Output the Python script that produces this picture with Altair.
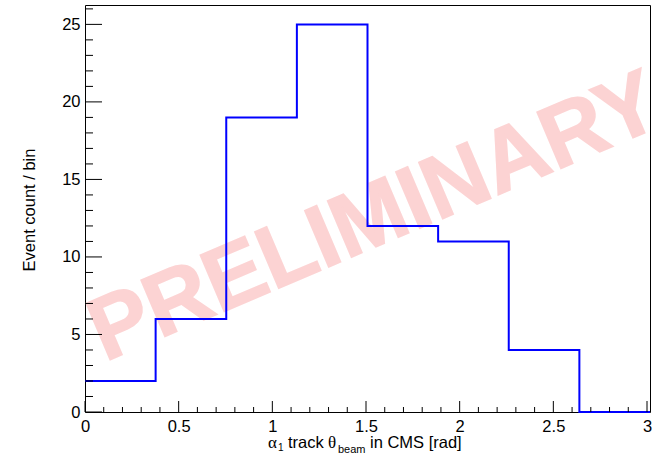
import altair as alt
import pandas as pd

# Histogram data (bin edges and contents)
bin_edges = [0.0, 0.377, 0.754, 1.131, 1.508, 1.885, 2.262, 2.639, 3.016]
bin_counts = [2, 6, 19, 25, 12, 11, 4, 0]

# Axis ticks
x_major = [0.0, 0.5, 1.0, 1.5, 2.0, 2.5, 3.0]
x_minor = [0.1, 0.2, 0.3, 0.4, 0.6, 0.7, 0.8, 0.9, 1.1, 1.2, 1.3, 1.4,
           1.6, 1.7, 1.8, 1.9, 2.1, 2.2, 2.3, 2.4, 2.6, 2.7, 2.8, 2.9]
y_major = [0, 5, 10, 15, 20, 25]
y_minor = [1, 2, 3, 4, 6, 7, 8, 9, 11, 12, 13, 14, 16, 17, 18, 19, 21, 22, 23, 24, 26]

X_DOMAIN = [0.0, 3.016]
Y_DOMAIN = [0.0, 26.25]
FONT = "Liberation Sans"
W, H = 565, 407

xs = alt.Scale(domain=X_DOMAIN, nice=False, zero=False)
ys = alt.Scale(domain=Y_DOMAIN, nice=False, zero=True)

step_df = pd.DataFrame({
    "x": bin_edges,
    "y": bin_counts + [bin_counts[-1]],
})

base = alt.Chart(step_df)

watermark = alt.Chart(pd.DataFrame({"t": ["PRELIMINARY"]})).mark_text(
    font=FONT, fontSize=89, fontWeight="bold", color="#fcd3d3",
    angle=337, align="center", baseline="middle", stroke="#fcd3d3", strokeWidth=1.5
).encode(x=alt.value(290), y=alt.value(213), text="t:N")

hist = base.mark_line(interpolate="step-after", color="#0000ff", strokeWidth=2).encode(
    x=alt.X("x:Q", scale=xs,
            axis=alt.Axis(values=x_major, format="~g", ticks=False, domain=False, grid=False,
                          labelFont=FONT, labelFontSize=16.5, labelColor="black",
                          labelPadding=6, labelFlush=False, title=None)),
    y=alt.Y("y:Q", scale=ys,
            axis=alt.Axis(values=y_major, format="d", ticks=False, domain=False, grid=False,
                          labelFont=FONT, labelFontSize=16.5, labelColor="black",
                          labelPadding=5, title=None)),
)

def xticks(vals, length):
    return alt.Chart(pd.DataFrame({"v": vals})).mark_rule(color="black", strokeWidth=1).encode(
        x=alt.X("v:Q", scale=xs), y=alt.value(H), y2=alt.value(H - length))

def yticks(vals, length):
    return alt.Chart(pd.DataFrame({"v": [v for v in vals if v <= Y_DOMAIN[1]]})).mark_rule(
        color="black", strokeWidth=1).encode(
        y=alt.Y("v:Q", scale=ys), x=alt.value(0), x2=alt.value(length))

# Axis titles as text pieces (for subscripts)
def txt(s, x, y, size, font=FONT, angle=None, align="left"):
    kw = dict(font=font, fontSize=size, color="black", align=align, baseline="alphabetic")
    if angle is not None:
        kw["angle"] = angle
    return alt.Chart(pd.DataFrame({"t": [s]})).mark_text(**kw).encode(
        x=alt.value(x), y=alt.value(y), text="t:N")

ytitle = txt("Event count / bin", -50, 205, 16.5, angle=270, align="center")
TB = 443
xt = [
    txt("\u03b1", 183, TB, 17, font="Liberation Serif"),
    txt("1", 193, TB + 3, 10),
    txt("track", 203, TB, 16.5),
    txt("\u03b8", 243, TB, 17, font="Liberation Serif"),
    txt("beam", 253, TB + 5, 11),
    txt("in CMS [rad]", 285, TB, 16.5),
]

chart = alt.layer(
    watermark,
    hist,
    xticks(x_major, 11), xticks(x_minor, 5),
    yticks(y_major, 17), yticks(y_minor, 8),
    ytitle, *xt,
).properties(
    width=W, height=H,
    autosize=alt.AutoSizeParams(type="none"),
    padding={"left": 85, "top": 5, "right": 8, "bottom": 46},
    background="white",
).configure_view(stroke="black", strokeWidth=1)

chart.save("out.html", embed_options={"renderer": "svg", "actions": False})
